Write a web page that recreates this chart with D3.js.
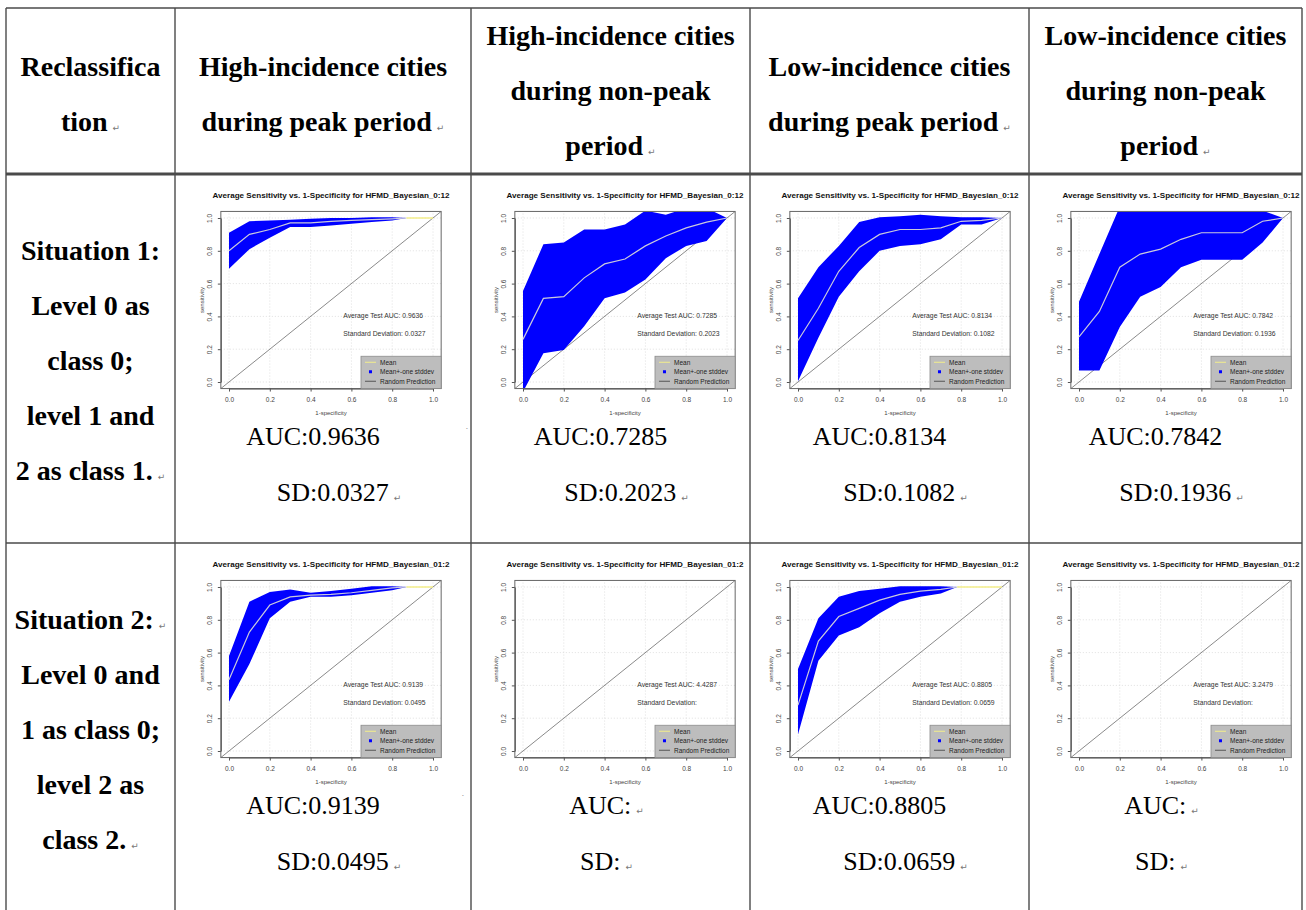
<!DOCTYPE html>
<html>
<head>
<meta charset="utf-8">
<script src="https://cdn.jsdelivr.net/npm/d3@7"></script>
<style>
  body { margin: 0; background: #fff; }
  svg { display: block; }
</style>
</head>
<body>
<div id="table"></div>
<script>
// --- table text ---
const headers = [
  ["Reclassifica", "tion"],
  ["High-incidence cities", "during peak period"],
  ["High-incidence cities", "during non-peak", "period"],
  ["Low-incidence cities", "during peak period"],
  ["Low-incidence cities", "during non-peak", "period"]
];
const rowLabels = [
  ["Situation 1:", "Level 0 as", "class 0;", "level 1 and", "2 as class 1."],
  ["Situation 2:", "Level 0 and", "1 as class 0;", "level 2 as", "class 2."]
];
const chartTitles = [
  "Average Sensitivity vs. 1-Specificity for HFMD_Bayesian_0:12",
  "Average Sensitivity vs. 1-Specificity for HFMD_Bayesian_01:2"
];

// --- AUC / SD per cell (row 1 then row 2) ---
const aucValues = ["0.9636", "0.7285", "0.8134", "0.7842", "0.9139", "", "0.8805", ""];
const sdValues  = ["0.0327", "0.2023", "0.1082", "0.1936", "0.0495", "", "0.0659", ""];
const plotAuc   = ["0.9636", "0.7285", "0.8134", "0.7842", "0.9139", "4.4287", "0.8805", "3.2479"];
const plotSd    = ["0.0327", "0.2023", "0.1082", "0.1936", "0.0495", "", "0.0659", ""];

// --- ROC curves (false positive rate -> sensitivity) ---
const fprA = [0, 0.1, 0.2, 0.3, 0.4, 0.5, 0.6, 0.7, 0.8, 0.87];
const fprB = [0, 0.1, 0.2, 0.3, 0.4, 0.5, 0.6, 0.7, 0.8, 0.9, 1.0];
const fprC = [0, 0.1, 0.2, 0.3, 0.4, 0.5, 0.6, 0.7, 0.78];

const mean1  = [0.80, 0.90, 0.93, 0.97, 0.97, 0.98, 0.985, 0.99, 0.995, 1.0];
const upper1 = [0.91, 0.98, 0.985, 0.99, 0.995, 1.0, 1.0, 1.005, 1.005, 1.0];
const lower1 = [0.69, 0.81, 0.88, 0.945, 0.945, 0.955, 0.965, 0.975, 0.985, 1.0];
const tail1  = [[0.87, 1.0], [1.0, 1.0]];

const mean2  = [0.26, 0.51, 0.52, 0.635, 0.72, 0.75, 0.83, 0.89, 0.94, 0.975, 1.0];
const upper2 = [0.555, 0.84, 0.85, 0.93, 0.93, 0.96, 1.045, 1.02, 1.06, 1.06, 1.0];
const lower2 = [-0.06, 0.175, 0.195, 0.34, 0.51, 0.545, 0.625, 0.755, 0.83, 0.86, 1.0];

const mean3  = [0.253, 0.45, 0.675, 0.82, 0.90, 0.93, 0.93, 0.94, 0.98, 0.985, 1.0];
const upper3 = [0.51, 0.70, 0.83, 0.975, 1.005, 1.01, 1.02, 1.01, 1.005, 1.005, 1.0];
const lower3 = [0.005, 0.27, 0.52, 0.675, 0.80, 0.83, 0.84, 0.87, 0.96, 0.96, 1.0];

const mean4  = [0.275, 0.43, 0.70, 0.78, 0.81, 0.87, 0.91, 0.91, 0.91, 0.98, 1.0];
const upper4 = [0.49, 0.78, 1.07, 1.045, 1.05, 1.05, 1.08, 1.08, 1.08, 1.045, 1.0];
const lower4 = [0.07, 0.07, 0.335, 0.52, 0.58, 0.70, 0.745, 0.745, 0.745, 0.85, 1.0];

const mean5  = [0.435, 0.725, 0.89, 0.94, 0.95, 0.955, 0.965, 0.98, 0.995, 1.0];
const upper5 = [0.58, 0.91, 0.97, 0.985, 0.965, 0.975, 0.99, 1.005, 1.005, 1.0];
const lower5 = [0.30, 0.53, 0.81, 0.91, 0.94, 0.94, 0.95, 0.965, 0.98, 1.0];
const tail5  = [[0.87, 1.0], [1.0, 1.0]];

const mean7  = [0.28, 0.67, 0.82, 0.87, 0.92, 0.955, 0.975, 0.985, 1.0];
const upper7 = [0.50, 0.81, 0.94, 0.975, 0.99, 1.005, 1.005, 1.005, 1.0];
const lower7 = [0.10, 0.55, 0.705, 0.755, 0.84, 0.91, 0.94, 0.96, 1.0];
const tail7  = [[0.78, 1.0], [1.0, 1.0]];

const legendLabels = ["Mean", "Mean+-one stddev", "Random Prediction"];
const tickValues = [0, 0.2, 0.4, 0.6, 0.8, 1.0];

// cells in reading order, null = no curve drawn
const curves = [
  { fpr: fprA, mean: mean1, upper: upper1, lower: lower1, tail: tail1 },
  { fpr: fprB, mean: mean2, upper: upper2, lower: lower2, tail: null },
  { fpr: fprB, mean: mean3, upper: upper3, lower: lower3, tail: null },
  { fpr: fprB, mean: mean4, upper: upper4, lower: lower4, tail: null },
  { fpr: fprA, mean: mean5, upper: upper5, lower: lower5, tail: tail5 },
  null,
  { fpr: fprC, mean: mean7, upper: upper7, lower: lower7, tail: tail7 },
  null
];

// --- layout ---
const width = 1306, height = 910;
const colEdges = [6, 175, 471, 750, 1029, 1302];
const rowEdges = [8, 174, 543];
const chartCx = [331, 625, 900, 1181];
const serif = "'Liberation Serif', 'Times New Roman', serif";
const sans = "'Liberation Sans', Arial, sans-serif";
const MARK = "\u21B5";

const svg = d3.select("#table").append("svg")
  .attr("width", width).attr("height", height)
  .style("font-family", serif);

// table grid (table runs past the bottom of the picture)
const grid = svg.append("g").attr("stroke", "#4a4a4a").attr("fill", "none");
colEdges.forEach(x => grid.append("line")
  .attr("x1", x).attr("x2", x).attr("y1", rowEdges[0]).attr("y2", height)
  .attr("stroke-width", 1.4));
rowEdges.forEach((y, i) => grid.append("line")
  .attr("x1", colEdges[0]).attr("x2", colEdges[5]).attr("y1", y).attr("y2", y)
  .attr("stroke-width", i === 1 ? 3 : 1.4));

// helper: text with optional paragraph mark
function addText(g, x, y, str, opts, mark) {
  const t = g.append("text").attr("x", x).attr("y", y)
    .attr("text-anchor", "middle")
    .attr("font-size", opts.size)
    .attr("font-weight", opts.weight || "normal")
    .attr("fill", "#000")
    .text(str);
  if (mark) {
    t.append("tspan").attr("font-family", "'DejaVu Sans', sans-serif")
      .attr("font-size", 9).attr("fill", "#777").attr("font-weight", "normal")
      .attr("dx", 5).text(MARK);
  }
  return t;
}

// headers
const headMid = (rowEdges[0] + rowEdges[1]) / 2;
headers.forEach((lines, c) => {
  const cx = (colEdges[c] + colEdges[c + 1]) / 2;
  lines.forEach((s, i) => {
    const cy = headMid + (i - (lines.length - 1) / 2) * 55 + (lines.length === 2 ? 3 : 0);
    addText(svg, cx, cy + 9, s, { size: 28, weight: "bold" }, i === lines.length - 1);
  });
});

// row labels
rowLabels.forEach((lines, r) => {
  const cx = (colEdges[0] + colEdges[1]) / 2;
  lines.forEach((s, i) => {
    const cy = rowEdges[r + 1] + 77 + i * 55;
    const mark = (r === 0 && i === 4) || (r === 1 && (i === 0 || i === 4));
    addText(svg, cx, cy + 9, s, { size: 28, weight: "bold" }, mark);
  });
});

// AUC / SD texts under charts
for (let r = 0; r < 2; r++) {
  for (let c = 0; c < 4; c++) {
    const k = r * 4 + c;
    const cx = (colEdges[c + 1] + colEdges[c + 2]) / 2;
    const top = rowEdges[r + 1];
    const empty = aucValues[k] === "";
    addText(svg, empty ? cx - 4 : cx - 10, top + 262 + 9, "AUC:" + aucValues[k], { size: 26 }, empty);
    addText(svg, empty ? cx - 4 : cx + 16, top + 318 + 9, "SD:" + sdValues[k], { size: 26 }, true);
  }
}
// stray paragraph marks near the column border
[[466, 430], [462, 797]].forEach(p => svg.append("text")
  .attr("x", p[0]).attr("y", p[1]).attr("font-size", 5).attr("fill", "#999").text("\u2022"));

// --- ROC charts ---
function drawRoc(k) {
  const r = Math.floor(k / 4), c = k % 4;
  const top = rowEdges[r + 1];
  const cx = chartCx[c];
  const x = d3.scaleLinear().domain([0, 1]).range([cx - 102, cx + 102]);
  const y = d3.scaleLinear().domain([0, 1]).range([top + 208, top + 44]);
  const g = svg.append("g").style("font-family", sans);
  const bx0 = x(-0.04), bx1 = x(1.04), by0 = y(-0.04), by1 = y(1.04);

  const clipId = "clip" + k;
  g.append("clipPath").attr("id", clipId).append("rect")
    .attr("x", bx0).attr("y", by1).attr("width", bx1 - bx0).attr("height", by0 - by1);

  // title
  g.append("text").attr("x", cx).attr("y", top + 24)
    .attr("text-anchor", "middle").attr("font-size", 8).attr("font-weight", "bold")
    .attr("textLength", 237).attr("lengthAdjust", "spacingAndGlyphs")
    .attr("fill", "#111").text(chartTitles[r]);

  // dotted grid
  const gg = g.append("g").attr("stroke", "#d8d8d8").attr("stroke-dasharray", "1,2").attr("stroke-width", 0.8);
  tickValues.forEach(v => {
    gg.append("line").attr("x1", x(v)).attr("x2", x(v)).attr("y1", by0).attr("y2", by1);
    gg.append("line").attr("x1", bx0).attr("x2", bx1).attr("y1", y(v)).attr("y2", y(v));
  });

  const plot = g.append("g").attr("clip-path", `url(#${clipId})`);
  // random prediction diagonal
  plot.append("line")
    .attr("x1", x(-0.04)).attr("y1", y(-0.04)).attr("x2", x(1.04)).attr("y2", y(1.04))
    .attr("stroke", "#8a8a8a").attr("stroke-width", 1);

  const cur = curves[k];
  if (cur) {
    const pts = cur.fpr.map((f, i) => ({ f, m: cur.mean[i], hi: cur.upper[i], lo: cur.lower[i] }));
    plot.append("path").datum(pts)
      .attr("fill", "#0000ff")
      .attr("d", d3.area().x(d => x(d.f)).y0(d => y(d.lo)).y1(d => y(d.hi)));
    plot.append("path").datum(pts)
      .attr("fill", "none").attr("stroke", "#c9c9dc").attr("stroke-width", 1.2)
      .attr("d", d3.line().x(d => x(d.f)).y(d => y(d.m)));
    if (cur.tail) {
      plot.append("path").datum(cur.tail)
        .attr("fill", "none").attr("stroke", "#f3ee8a").attr("stroke-width", 1.6)
        .attr("d", d3.line().x(d => x(d[0])).y(d => y(d[1])));
    }
  }

  // box
  g.append("rect").attr("x", bx0).attr("y", by1).attr("width", bx1 - bx0).attr("height", by0 - by1)
    .attr("fill", "none").attr("stroke", "#666").attr("stroke-width", 1);

  // axes
  const xa = g.append("g").attr("transform", `translate(0,${by0})`)
    .call(d3.axisBottom(x).tickValues(tickValues).tickFormat(d3.format(".1f"))
      .tickSize(3).tickSizeOuter(0).tickPadding(6));
  const ya = g.append("g").attr("transform", `translate(${bx0},0)`)
    .call(d3.axisLeft(y).tickValues(tickValues).tickFormat(d3.format(".1f"))
      .tickSize(3).tickSizeOuter(0));
  [xa, ya].forEach(a => {
    a.select(".domain").attr("stroke", "#555");
    a.selectAll(".tick line").attr("stroke", "#555");
    a.selectAll("text").attr("font-size", 6.5).attr("fill", "#444").style("font-family", sans);
  });
  ya.selectAll("text")
    .attr("x", 0).attr("dy", 0).attr("text-anchor", "middle")
    .attr("transform", "translate(-9,0) rotate(-90)");

  g.append("text").attr("x", cx).attr("y", by0 + 26)
    .attr("text-anchor", "middle").attr("font-size", 6).attr("fill", "#444").text("1-specificity");
  g.append("text").attr("transform", `translate(${bx0 - 17},${y(0.5)}) rotate(-90)`)
    .attr("text-anchor", "middle").attr("font-size", 6).attr("fill", "#444").text("sensitivity");

  // AUC statistics inside the plot
  g.append("text").attr("x", x(0.56)).attr("y", y(0.40) + 2)
    .attr("font-size", 6.8).attr("fill", "#333").text("Average Test AUC: " + plotAuc[k]);
  g.append("text").attr("x", x(0.56)).attr("y", y(0.295) + 2)
    .attr("font-size", 6.8).attr("fill", "#333")
    .text("Standard Deviation:" + (plotSd[k] ? " " + plotSd[k] : ""));

  // legend
  const lx0 = x(0.647), ly0 = y(0.157);
  const lg = g.append("g");
  lg.append("rect").attr("x", lx0).attr("y", ly0).attr("width", bx1 - lx0).attr("height", by0 - ly0)
    .attr("fill", "#bdbdbd").attr("stroke", "#8c8c8c").attr("stroke-width", 0.8);
  legendLabels.forEach((lab, i) => {
    const ly = ly0 + 6 + i * 9.5;
    if (i === 1) {
      lg.append("rect").attr("x", lx0 + 8).attr("y", ly - 1.5).attr("width", 3).attr("height", 3).attr("fill", "#0000ff");
    } else {
      lg.append("line").attr("x1", lx0 + 4).attr("x2", lx0 + 15).attr("y1", ly).attr("y2", ly)
        .attr("stroke", i === 0 ? "#f3ee8a" : "#555").attr("stroke-width", 1);
    }
    lg.append("text").attr("x", lx0 + 19).attr("y", ly + 2.3)
      .attr("font-size", 6.5).attr("fill", "#222").text(lab);
  });
}

for (let k = 0; k < 8; k++) drawRoc(k);
</script>
</body>
</html>
